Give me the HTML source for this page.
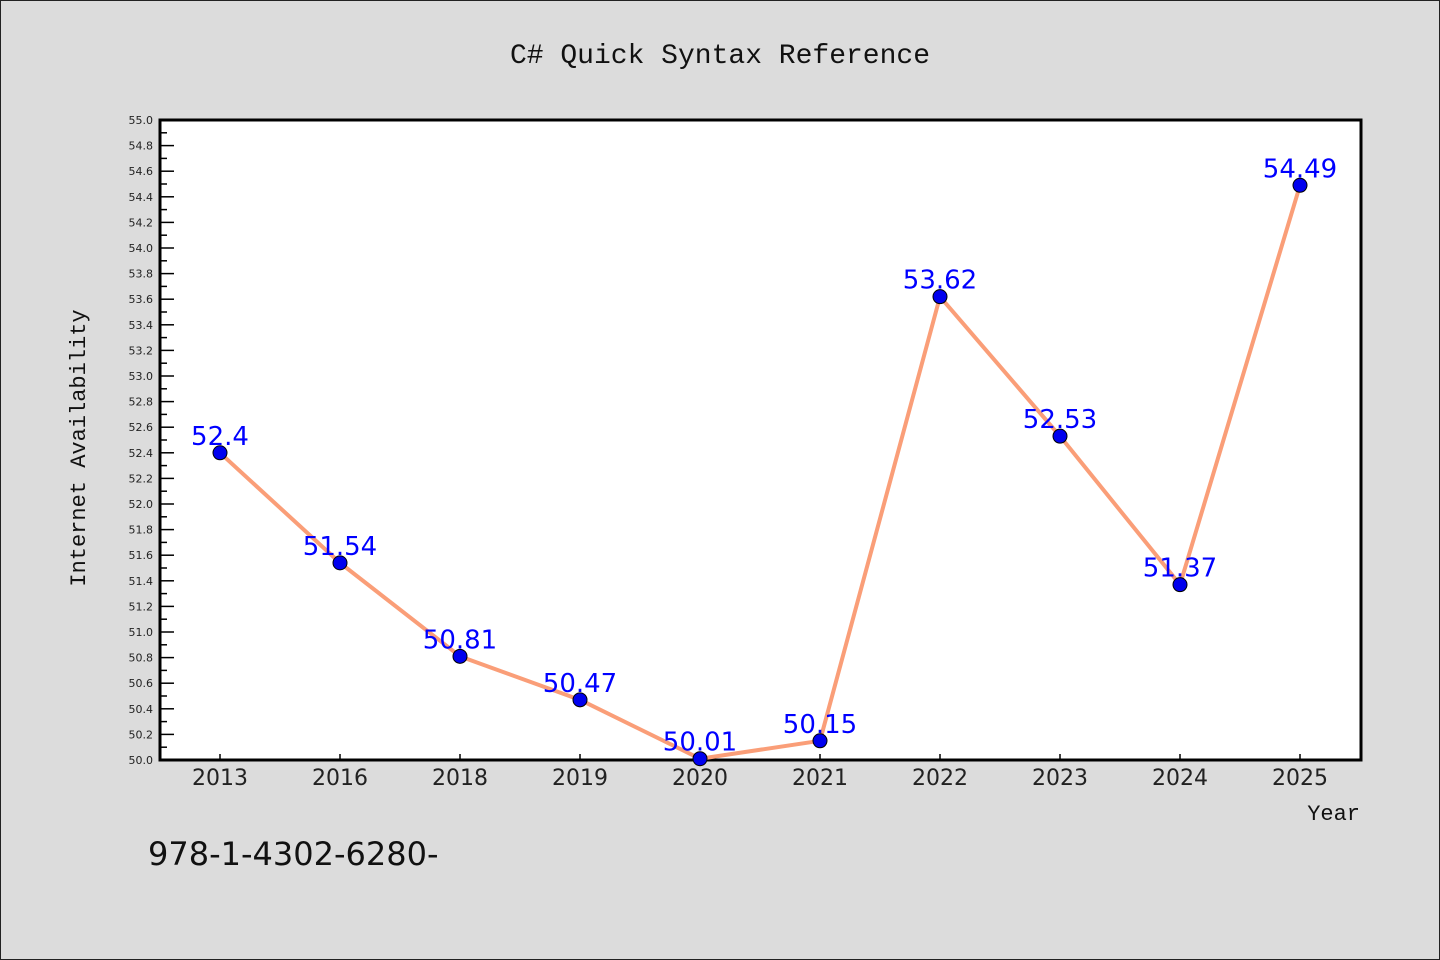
<!DOCTYPE html>
<html><head><meta charset="utf-8"><style>
body{margin:0;background:#dcdcdc;}
svg{display:block;font-family:"DejaVu Sans","WenQuanYi Zen Hei",sans-serif;}
</style></head><body>
<svg id="chart" width="1440" height="960">
<rect x="0.5" y="0.5" width="1439" height="959" fill="#dcdcdc" stroke="#222"/>
<text x="720" y="63" text-anchor="middle" font-family="Liberation Mono, monospace" font-size="28" fill="#111">C# Quick Syntax Reference</text>
<rect x="160" y="120" width="1201" height="640" fill="#fff"/>
<g id="yticks"></g><g id="xticks"></g>
<path d="M160,120 V760 H1361 V120 Z" fill="none" stroke="#000" stroke-width="3"/>
<g id="series"></g>
<text x="85" y="448" transform="rotate(-90 85 448)" text-anchor="middle" font-family="Liberation Mono, monospace" font-size="22" fill="#111">Internet Availability</text>
<text x="1360" y="820" text-anchor="end" font-family="Liberation Mono, monospace" font-size="22" fill="#111">Year</text>
<text x="148" y="865" font-size="32" fill="#111">978-1-4302-6280-</text>
</svg>
<script>
const categories=["2013","2016","2018","2019","2020","2021","2022","2023","2024","2025"];
const values=[52.4,51.54,50.81,50.47,50.01,50.15,53.62,52.53,51.37,54.49];
const valueLabels=["52.4","51.54","50.81","50.47","50.01","50.15","53.62","52.53","51.37","54.49"];
const yMin=50,yMax=55;
const NS="http://www.w3.org/2000/svg";
function y(v){return 760-(v-yMin)/(yMax-yMin)*640;}
function x(i){return 160+120*(i+0.5);}
function mk(t,a,p){const e=document.createElementNS(NS,t);for(const k in a)e.setAttribute(k,a[k]);p.appendChild(e);return e;}
const yt=document.getElementById('yticks');
for(let k=0;k<=50;k++){const v=yMin+k*0.1;const yy=y(v);const major=k%2===0;
 const l=mk('line',{x1:160,x2:major?174:167,y1:yy,y2:yy,stroke:'#000','stroke-width':1.5},yt);
 
 
 if(major){const t=mk('text',{x:153,y:yy+4,'text-anchor':'end','font-size':11,fill:'#222'},yt);t.textContent=v.toFixed(1);
 
 }}
const xt=document.getElementById('xticks');
categories.forEach((c,i)=>{const l=mk('line',{x1:x(i),x2:x(i),y1:760,y2:754,stroke:'#000','stroke-width':1.5},xt);
 
 
 const t=mk('text',{x:x(i),y:785,'text-anchor':'middle','font-size':22,fill:'#222'},xt);t.textContent=c;
 
 });
const s=document.getElementById('series');
const pl=mk('polyline',{points:values.map((v,i)=>x(i)+','+y(v)).join(' '),fill:'none',stroke:'#fa9e78','stroke-width':4,'stroke-linejoin':'round'},s);


values.forEach((v,i)=>{const c=mk('circle',{cx:x(i),cy:y(v),r:7,fill:'#0000ee',stroke:'#000','stroke-width':1},s);
 
 
 const t=mk('text',{x:x(i),y:y(v)-8,'text-anchor':'middle','font-size':26,fill:'#0000ff'},s);t.textContent=valueLabels[i];
 
 });
</script>
</body></html>
